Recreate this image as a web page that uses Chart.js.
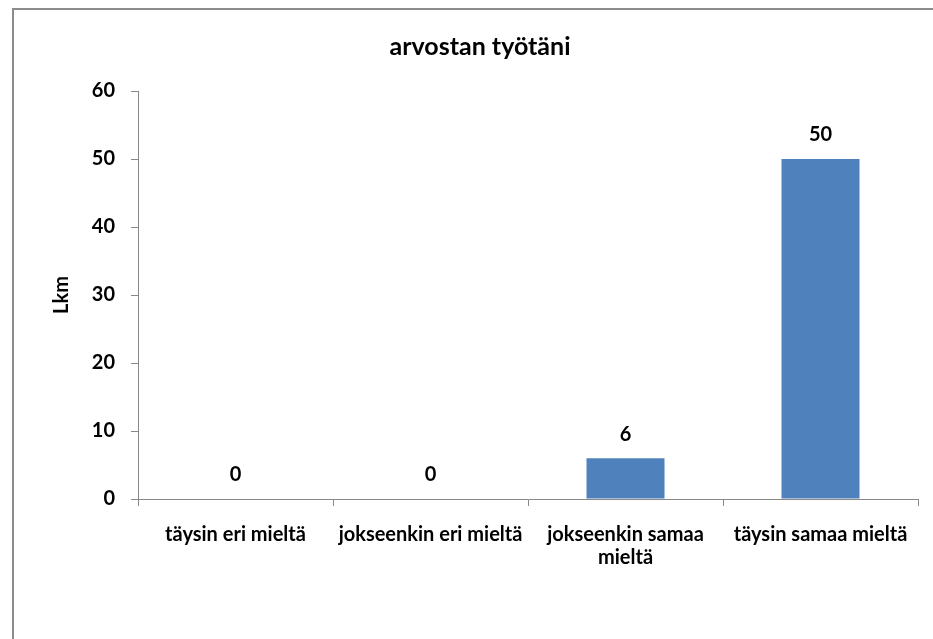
<!DOCTYPE html>
<html>
<head>
<meta charset="utf-8">
<script src="https://cdn.jsdelivr.net/npm/chart.js@4.4.1/dist/chart.umd.min.js"></script>
<style>
    html, body { margin: 0; padding: 0; background: #fff; overflow: hidden; }
    #frame {
        position: absolute; left: 12px; top: 8px;
        width: 932px; height: 700px;
        border: 2px solid #8c8c8c;
    }
    #chart { display: block; }
</style>
</head>
<body>
<div id="frame"><canvas id="chart" width="932" height="629"></canvas></div>
<script>
// === Data ===
const chartTitle = 'arvostan työtäni';
const categories = [
    'täysin eri mieltä',
    'jokseenkin eri mieltä',
    ['jokseenkin samaa', 'mieltä'],
    'täysin samaa mieltä',
];
const counts = [0, 0, 6, 50];
const yTicks = [0, 10, 20, 30, 40, 50, 60];

const FONT = 'Lato, "Open Sans", sans-serif';
const AXIS_GREY = '#888888';

// title centred on the whole frame (not on the padded chart box)
const frameTitle = {
    id: 'frameTitle',
    afterDraw(chart) {
        const ctx = chart.ctx;
        ctx.save();
        ctx.font = `bold 25px ${FONT}`;
        ctx.fillStyle = '#000';
        ctx.textAlign = 'center';
        ctx.textBaseline = 'middle';
        ctx.fillText(chartTitle, 466, 37);
        ctx.restore();
    },
};

// value labels above bars
const valueLabels = {
    id: 'valueLabels',
    afterDatasetsDraw(chart) {
        const ctx = chart.ctx;
        const meta = chart.getDatasetMeta(0);
        ctx.save();
        ctx.font = `bold 20px ${FONT}`;
        ctx.fillStyle = '#000';
        ctx.textAlign = 'center';
        ctx.textBaseline = 'middle';
        meta.data.forEach((bar, i) => {
            ctx.fillText(String(counts[i]), bar.x, bar.y - 24);
        });
        ctx.restore();
    },
};

new Chart(document.getElementById('chart'), {
    type: 'bar',
    data: {
        labels: categories,
        datasets: [{
            data: counts,
            backgroundColor: '#4F81BD',
            borderWidth: 0,
            categoryPercentage: 1,
            barPercentage: 0.4,
        }],
    },
    options: {
        responsive: false,
        animation: false,
        layout: { padding: { left: 0, right: 28, top: 81, bottom: 0 } },
        plugins: {
            legend: { display: false },
            tooltip: { enabled: false },
            title: { display: false },
        },
        scales: {
            y: {
                min: 0,
                max: 60,
                afterBuildTicks: s => { s.ticks = yTicks.map(v => ({ value: v })); },
                afterFit: s => { s.width = 124; },
                border: { color: AXIS_GREY, width: 1 },
                grid: { drawOnChartArea: false, drawTicks: true, tickLength: 7, color: AXIS_GREY },
                ticks: { color: '#000', padding: 16, font: { family: FONT, size: 20, weight: 'bold' } },
                title: {
                    display: true,
                    text: 'Lkm',
                    color: '#000',
                    font: { family: FONT, size: 20, weight: 'bold', lineHeight: 1.2 },
                    padding: { top: 36, bottom: 0 },
                },
            },
            x: {
                afterFit: s => { s.height = 140; },
                border: { color: AXIS_GREY, width: 1 },
                grid: { offset: true, drawOnChartArea: false, drawTicks: true, tickLength: 7, color: AXIS_GREY },
                ticks: {
                    color: '#000',
                    padding: 17,
                    maxRotation: 0,
                    autoSkip: false,
                    font: { family: FONT, size: 20, weight: 'bold', lineHeight: 1.15 },
                },
            },
        },
    },
    plugins: [valueLabels, frameTitle],
});
</script>
</body>
</html>
